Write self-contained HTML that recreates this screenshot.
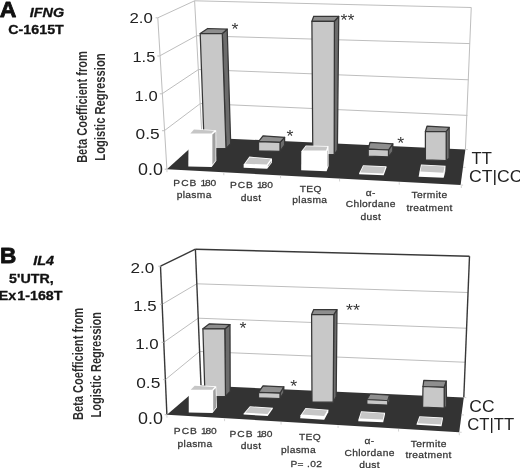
<!DOCTYPE html>
<html><head><meta charset="utf-8"><title>Figure</title>
<style>
html,body{margin:0;padding:0;background:#fff;}
body{width:520px;height:468px;overflow:hidden;}
svg{display:block;font-family:"Liberation Sans",sans-serif;will-change:transform;}
</style></head>
<body>
<svg width="520" height="468" viewBox="0 0 520 468">
<rect width="520" height="468" fill="#fff"/>
<line x1="157.80" y1="17.80" x2="194.60" y2="0.80" stroke="#bebebe" stroke-width="1"/>
<line x1="159.50" y1="56.00" x2="196.50" y2="35.70" stroke="#bebebe" stroke-width="1"/>
<line x1="162.00" y1="93.80" x2="198.50" y2="69.50" stroke="#bebebe" stroke-width="1"/>
<line x1="164.30" y1="130.70" x2="200.40" y2="103.50" stroke="#bebebe" stroke-width="1"/>
<line x1="194.60" y1="0.80" x2="471.25" y2="7.50" stroke="#bebebe" stroke-width="1"/>
<line x1="196.50" y1="35.70" x2="470.00" y2="43.60" stroke="#bebebe" stroke-width="1"/>
<line x1="198.50" y1="69.50" x2="468.70" y2="79.80" stroke="#bebebe" stroke-width="1"/>
<line x1="200.40" y1="103.50" x2="467.40" y2="115.40" stroke="#bebebe" stroke-width="1"/>
<line x1="157.80" y1="17.80" x2="166.90" y2="169.20" stroke="#bebebe" stroke-width="1"/>
<line x1="194.60" y1="0.80" x2="202.00" y2="137.40" stroke="#bebebe" stroke-width="1"/>
<line x1="471.25" y1="7.50" x2="465.40" y2="149.50" stroke="#bebebe" stroke-width="1"/>
<line x1="155.60" y1="17.80" x2="157.80" y2="17.80" stroke="#bebebe" stroke-width="1"/>
<line x1="157.30" y1="56.00" x2="159.50" y2="56.00" stroke="#bebebe" stroke-width="1"/>
<line x1="159.80" y1="93.80" x2="162.00" y2="93.80" stroke="#bebebe" stroke-width="1"/>
<line x1="162.10" y1="130.70" x2="164.30" y2="130.70" stroke="#bebebe" stroke-width="1"/>
<line x1="164.70" y1="169.20" x2="166.90" y2="169.20" stroke="#bebebe" stroke-width="1"/>
<polygon points="166.90,169.20 202.00,137.40 465.40,149.50 460.60,185.00" fill="#333333"/>
<line x1="166.90" y1="169.70" x2="167.00" y2="172.20" stroke="#cfcfcf" stroke-width="0.9"/>
<line x1="223.75" y1="172.76" x2="223.85" y2="175.26" stroke="#cfcfcf" stroke-width="0.9"/>
<line x1="280.50" y1="175.81" x2="280.60" y2="178.31" stroke="#cfcfcf" stroke-width="0.9"/>
<line x1="339.50" y1="178.99" x2="339.60" y2="181.49" stroke="#cfcfcf" stroke-width="0.9"/>
<line x1="399.20" y1="182.20" x2="399.30" y2="184.70" stroke="#cfcfcf" stroke-width="0.9"/>
<line x1="461.25" y1="185.53" x2="461.35" y2="188.03" stroke="#cfcfcf" stroke-width="0.9"/>
<line x1="465.40" y1="149.50" x2="467.90" y2="149.60" stroke="#cfcfcf" stroke-width="0.9"/>
<line x1="463.00" y1="167.25" x2="465.50" y2="167.35" stroke="#cfcfcf" stroke-width="0.9"/>
<line x1="460.60" y1="185.00" x2="463.10" y2="185.10" stroke="#cfcfcf" stroke-width="0.9"/>
<polygon points="222.30,33.50 227.20,29.20 230.70,143.70 226.00,148.70" fill="#6c6c6c" stroke="#363636" stroke-width="1.25" stroke-linejoin="round"/>
<polygon points="200.20,33.50 207.70,28.50 227.20,29.20 222.30,33.50" fill="#8e8e8e" stroke="#363636" stroke-width="1.25" stroke-linejoin="round"/>
<polygon points="200.20,33.50 222.30,33.50 226.00,148.70 204.30,148.70" fill="#c8c8c8" stroke="#363636" stroke-width="1.25" stroke-linejoin="round"/>
<polygon points="280.00,142.30 284.60,137.30 284.60,145.00 280.00,151.40" fill="#6c6c6c" stroke="#363636" stroke-width="1.25" stroke-linejoin="round"/>
<polygon points="258.50,141.70 263.00,135.80 284.60,137.30 280.00,142.30" fill="#8e8e8e" stroke="#363636" stroke-width="1.25" stroke-linejoin="round"/>
<polygon points="258.50,141.70 280.00,142.30 280.00,151.40 258.50,150.80" fill="#c8c8c8" stroke="#363636" stroke-width="1.25" stroke-linejoin="round"/>
<polygon points="334.40,21.25 338.75,16.40 337.40,150.00 334.20,154.60" fill="#6c6c6c" stroke="#363636" stroke-width="1.25" stroke-linejoin="round"/>
<polygon points="311.90,21.25 313.75,16.25 338.75,16.40 334.40,21.25" fill="#8e8e8e" stroke="#363636" stroke-width="1.25" stroke-linejoin="round"/>
<polygon points="311.90,21.25 334.40,21.25 334.20,154.60 312.80,154.60" fill="#c8c8c8" stroke="#363636" stroke-width="1.25" stroke-linejoin="round"/>
<polygon points="388.50,150.00 392.80,143.80 392.80,151.50 388.50,156.90" fill="#6c6c6c" stroke="#363636" stroke-width="1.25" stroke-linejoin="round"/>
<polygon points="368.20,149.20 370.00,142.30 392.80,143.80 388.50,150.00" fill="#8e8e8e" stroke="#363636" stroke-width="1.25" stroke-linejoin="round"/>
<polygon points="368.20,149.20 388.50,150.00 388.50,156.90 368.20,156.20" fill="#c8c8c8" stroke="#363636" stroke-width="1.25" stroke-linejoin="round"/>
<polygon points="446.20,131.50 449.20,127.40 449.20,158.30 446.20,160.50" fill="#6c6c6c" stroke="#363636" stroke-width="1.25" stroke-linejoin="round"/>
<polygon points="425.40,131.50 427.00,126.20 449.20,127.40 446.20,131.50" fill="#8e8e8e" stroke="#363636" stroke-width="1.25" stroke-linejoin="round"/>
<polygon points="425.40,131.50 446.20,131.50 446.20,160.50 425.40,159.90" fill="#c8c8c8" stroke="#363636" stroke-width="1.25" stroke-linejoin="round"/>
<polygon points="188.60,134.30 193.60,128.70 216.20,130.20 216.30,160.70 211.70,166.90 188.30,166.40" fill="#fff"/>
<polygon points="190.39,133.50 193.94,129.52 214.27,130.87 211.39,133.50" fill="#c6c6c6"/>
<polygon points="212.40,134.61 215.51,131.78 215.60,160.47 212.40,164.78" fill="#a0a0a0"/>
<polygon points="243.65,164.60 249.40,156.60 272.00,158.50 272.00,162.60 267.20,168.75 243.65,167.80" fill="#fff"/>
<polygon points="245.18,163.85 249.78,157.44 270.54,159.18 266.79,164.49" fill="#c6c6c6"/>
<polygon points="267.90,165.52 271.30,160.71 271.30,162.36 267.90,166.72" fill="#a0a0a0"/>
<polygon points="301.30,151.30 305.80,145.50 328.50,146.10 328.60,166.00 326.60,171.20 301.20,170.30" fill="#fff"/>
<polygon points="302.93,150.50 306.18,146.31 327.37,146.87 326.04,150.50" fill="#c6c6c6"/>
<polygon points="327.30,151.42 327.82,150.00 327.90,165.87 327.30,167.43" fill="#a0a0a0"/>
<polygon points="359.10,173.30 363.00,165.20 386.50,166.20 386.50,167.50 383.70,175.30 359.10,174.30" fill="#fff"/>
<polygon points="360.35,172.55 363.49,166.02 385.39,166.95 383.14,173.48" fill="#c6c6c6"/>
<polygon points="419.40,172.30 421.00,164.40 445.60,165.80 445.20,172.00 443.65,177.70 418.65,176.75" fill="#fff"/>
<polygon points="420.37,171.55 421.65,165.24 444.63,166.55 443.35,172.76" fill="#c6c6c6"/>
<polygon points="444.69,173.70 444.25,175.87 444.51,171.88 445.01,170.05" fill="#a0a0a0"/>
<text transform="translate(-0.30,17.40) scale(1.02,1)" stroke="#111" stroke-width="0.8" stroke-linejoin="round" font-size="22.6" font-weight="bold" font-style="normal" fill="#111" text-anchor="start" letter-spacing="0">A</text>
<text transform="translate(29.80,17.20) scale(1.18,1)" stroke="#111" stroke-width="0.3" stroke-linejoin="round" font-size="12.2" font-weight="bold" font-style="italic" fill="#111" text-anchor="start" letter-spacing="0">IFNG</text>
<text transform="translate(8.30,34.20) scale(1.17,1)" stroke="#111" stroke-width="0.3" stroke-linejoin="round" font-size="12.2" font-weight="bold" font-style="normal" fill="#111" text-anchor="start" letter-spacing="0">C-1615T</text>
<text transform="translate(129.40,23.30) scale(1.12,1)" font-size="15" font-weight="normal" font-style="normal" fill="#222" text-anchor="start" letter-spacing="0">2.0</text>
<text transform="translate(132.50,62.40) scale(1.08,1)" font-size="15.2" font-weight="normal" font-style="normal" fill="#222" text-anchor="start" letter-spacing="0">1.5</text>
<text transform="translate(134.60,100.60) scale(1.08,1)" font-size="15.4" font-weight="normal" font-style="normal" fill="#222" text-anchor="start" letter-spacing="0">1.0</text>
<text transform="translate(135.60,138.90) scale(1.12,1)" font-size="15.5" font-weight="normal" font-style="normal" fill="#222" text-anchor="start" letter-spacing="0">0.5</text>
<text transform="translate(138.00,175.10) scale(1.12,1)" font-size="16" font-weight="normal" font-style="normal" fill="#222" text-anchor="start" letter-spacing="0">0.0</text>
<text transform="translate(86.80,107.00) rotate(-90) scale(1,1.28)" font-size="11.05" font-weight="bold" fill="#2c2c2c" text-anchor="middle">Beta Coefficient from</text>
<text transform="translate(104.90,107.00) rotate(-90) scale(1,1.28)" font-size="11.25" font-weight="bold" fill="#2c2c2c" text-anchor="middle">Logistic Regression</text>
<text transform="translate(471.60,163.80) scale(1.06,1)" font-size="15.7" font-weight="normal" font-style="normal" fill="#222" text-anchor="start" letter-spacing="0">TT</text>
<text transform="translate(469.00,182.10) scale(1.1,1)" font-size="16" font-weight="normal" font-style="normal" fill="#222" text-anchor="start" letter-spacing="0">CT|CC</text>
<text transform="translate(235.00,35.30) scale(1.05,1)" font-size="17" font-weight="normal" font-style="normal" fill="#383838" text-anchor="middle" letter-spacing="0">*</text>
<text transform="translate(290.00,142.00) scale(1.05,1)" font-size="17" font-weight="normal" font-style="normal" fill="#383838" text-anchor="middle" letter-spacing="0">*</text>
<text transform="translate(347.50,25.50) scale(1.05,1)" font-size="17" font-weight="normal" font-style="normal" fill="#383838" text-anchor="middle" letter-spacing="0">**</text>
<text transform="translate(400.80,149.00) scale(1.05,1)" font-size="17" font-weight="normal" font-style="normal" fill="#383838" text-anchor="middle" letter-spacing="0">*</text>
<text transform="translate(194.80,185.50) scale(1.09,1)" stroke="#363636" stroke-width="0.25" stroke-linejoin="round" font-size="9.4" font-weight="normal" font-style="normal" fill="#363636" text-anchor="middle" letter-spacing="0.3"><tspan letter-spacing="0.9">PCB</tspan> 1<tspan dx="-1.5" letter-spacing="0">80</tspan></text>
<text transform="translate(194.20,197.90) scale(1.09,1)" stroke="#363636" stroke-width="0.25" stroke-linejoin="round" font-size="9.4" font-weight="normal" font-style="normal" fill="#363636" text-anchor="middle" letter-spacing="0.3">plasma</text>
<text transform="translate(251.40,188.30) scale(1.09,1)" stroke="#363636" stroke-width="0.25" stroke-linejoin="round" font-size="9.4" font-weight="normal" font-style="normal" fill="#363636" text-anchor="middle" letter-spacing="0.3"><tspan letter-spacing="0.9">PCB</tspan> 1<tspan dx="-1.5" letter-spacing="0">80</tspan></text>
<text transform="translate(251.00,200.50) scale(1.09,1)" stroke="#363636" stroke-width="0.25" stroke-linejoin="round" font-size="9.4" font-weight="normal" font-style="normal" fill="#363636" text-anchor="middle" letter-spacing="0.3">dust</text>
<text transform="translate(310.80,191.60) scale(1.09,1)" stroke="#363636" stroke-width="0.25" stroke-linejoin="round" font-size="9.4" font-weight="normal" font-style="normal" fill="#363636" text-anchor="middle" letter-spacing="0.3">TEQ</text>
<text transform="translate(309.80,203.00) scale(1.09,1)" stroke="#363636" stroke-width="0.25" stroke-linejoin="round" font-size="9.4" font-weight="normal" font-style="normal" fill="#363636" text-anchor="middle" letter-spacing="0.3">plasma</text>
<text transform="translate(370.80,195.80) scale(1.09,1)" stroke="#363636" stroke-width="0.25" stroke-linejoin="round" font-size="9.4" font-weight="normal" font-style="normal" fill="#363636" text-anchor="middle" letter-spacing="0.3">α-</text>
<text transform="translate(370.80,207.00) scale(1.09,1)" stroke="#363636" stroke-width="0.25" stroke-linejoin="round" font-size="9.4" font-weight="normal" font-style="normal" fill="#363636" text-anchor="middle" letter-spacing="0.3">Chlordane</text>
<text transform="translate(370.80,219.50) scale(1.09,1)" stroke="#363636" stroke-width="0.25" stroke-linejoin="round" font-size="9.4" font-weight="normal" font-style="normal" fill="#363636" text-anchor="middle" letter-spacing="0.3">dust</text>
<text transform="translate(429.50,198.20) scale(1.09,1)" stroke="#363636" stroke-width="0.25" stroke-linejoin="round" font-size="9.4" font-weight="normal" font-style="normal" fill="#363636" text-anchor="middle" letter-spacing="0.3">Termite</text>
<text transform="translate(429.50,210.50) scale(1.09,1)" stroke="#363636" stroke-width="0.25" stroke-linejoin="round" font-size="9.4" font-weight="normal" font-style="normal" fill="#363636" text-anchor="middle" letter-spacing="0.3">treatment</text>
<line x1="160.50" y1="266.20" x2="195.40" y2="249.20" stroke="#383838" stroke-width="1.4"/>
<line x1="162.10" y1="304.30" x2="196.80" y2="283.80" stroke="#bebebe" stroke-width="1"/>
<line x1="163.80" y1="342.30" x2="198.20" y2="318.20" stroke="#bebebe" stroke-width="1"/>
<line x1="165.40" y1="379.60" x2="199.60" y2="351.50" stroke="#bebebe" stroke-width="1"/>
<line x1="195.40" y1="249.20" x2="469.50" y2="256.25" stroke="#383838" stroke-width="1.4"/>
<line x1="196.80" y1="283.80" x2="468.20" y2="292.50" stroke="#bebebe" stroke-width="1"/>
<line x1="198.20" y1="318.20" x2="466.80" y2="328.25" stroke="#bebebe" stroke-width="1"/>
<line x1="199.60" y1="351.50" x2="465.40" y2="362.25" stroke="#bebebe" stroke-width="1"/>
<line x1="160.50" y1="266.20" x2="166.90" y2="414.70" stroke="#383838" stroke-width="1.4"/>
<line x1="195.40" y1="249.20" x2="201.00" y2="385.50" stroke="#383838" stroke-width="1.4"/>
<line x1="469.50" y1="256.25" x2="463.80" y2="397.50" stroke="#383838" stroke-width="1.4"/>
<line x1="158.30" y1="266.20" x2="160.50" y2="266.20" stroke="#bebebe" stroke-width="1"/>
<line x1="159.90" y1="304.30" x2="162.10" y2="304.30" stroke="#bebebe" stroke-width="1"/>
<line x1="161.60" y1="342.30" x2="163.80" y2="342.30" stroke="#bebebe" stroke-width="1"/>
<line x1="163.20" y1="379.60" x2="165.40" y2="379.60" stroke="#bebebe" stroke-width="1"/>
<line x1="164.70" y1="414.70" x2="166.90" y2="414.70" stroke="#bebebe" stroke-width="1"/>
<polygon points="166.90,414.70 201.00,385.50 463.80,397.50 459.20,432.20" fill="#333333"/>
<line x1="166.90" y1="415.20" x2="167.00" y2="417.70" stroke="#cfcfcf" stroke-width="0.9"/>
<line x1="224.50" y1="418.65" x2="224.60" y2="421.15" stroke="#cfcfcf" stroke-width="0.9"/>
<line x1="281.00" y1="422.03" x2="281.10" y2="424.53" stroke="#cfcfcf" stroke-width="0.9"/>
<line x1="338.00" y1="425.44" x2="338.10" y2="427.94" stroke="#cfcfcf" stroke-width="0.9"/>
<line x1="398.50" y1="429.07" x2="398.60" y2="431.57" stroke="#cfcfcf" stroke-width="0.9"/>
<line x1="459.20" y1="432.70" x2="459.30" y2="435.20" stroke="#cfcfcf" stroke-width="0.9"/>
<line x1="463.80" y1="397.50" x2="466.30" y2="397.60" stroke="#cfcfcf" stroke-width="0.9"/>
<line x1="461.50" y1="414.85" x2="464.00" y2="414.95" stroke="#cfcfcf" stroke-width="0.9"/>
<line x1="459.20" y1="432.20" x2="461.70" y2="432.30" stroke="#cfcfcf" stroke-width="0.9"/>
<polygon points="224.80,328.90 230.00,324.60 230.20,391.50 225.50,396.50" fill="#6c6c6c" stroke="#363636" stroke-width="1.25" stroke-linejoin="round"/>
<polygon points="202.90,328.80 209.40,323.80 230.00,324.60 224.80,328.90" fill="#8e8e8e" stroke="#363636" stroke-width="1.25" stroke-linejoin="round"/>
<polygon points="202.90,328.80 224.80,328.90 225.50,396.50 205.00,396.50" fill="#c8c8c8" stroke="#363636" stroke-width="1.25" stroke-linejoin="round"/>
<polygon points="280.00,393.20 283.80,386.80 283.80,392.70 280.00,398.50" fill="#6c6c6c" stroke="#363636" stroke-width="1.25" stroke-linejoin="round"/>
<polygon points="258.50,392.40 263.00,385.80 283.80,386.80 280.00,393.20" fill="#8e8e8e" stroke="#363636" stroke-width="1.25" stroke-linejoin="round"/>
<polygon points="258.50,392.40 280.00,393.20 280.00,398.50 258.50,397.80" fill="#c8c8c8" stroke="#363636" stroke-width="1.25" stroke-linejoin="round"/>
<polygon points="333.80,314.50 337.00,309.70 336.20,396.50 333.20,402.20" fill="#6c6c6c" stroke="#363636" stroke-width="1.25" stroke-linejoin="round"/>
<polygon points="311.60,314.50 313.75,309.50 337.00,309.70 333.80,314.50" fill="#8e8e8e" stroke="#363636" stroke-width="1.25" stroke-linejoin="round"/>
<polygon points="311.60,314.50 333.80,314.50 333.20,402.20 312.00,402.00" fill="#c8c8c8" stroke="#363636" stroke-width="1.25" stroke-linejoin="round"/>
<polygon points="387.60,400.60 389.30,395.20 389.30,400.80 387.60,405.00" fill="#6c6c6c" stroke="#363636" stroke-width="0.9" stroke-linejoin="round"/>
<polygon points="367.00,399.70 370.30,394.00 389.30,395.20 387.60,400.60" fill="#8e8e8e" stroke="#363636" stroke-width="0.9" stroke-linejoin="round"/>
<polygon points="367.00,399.70 387.60,400.60 387.60,405.00 367.00,404.10" fill="#c8c8c8" stroke="#363636" stroke-width="0.9" stroke-linejoin="round"/>
<polygon points="444.20,387.30 446.20,381.20 446.60,406.50 444.20,408.10" fill="#6c6c6c" stroke="#363636" stroke-width="1.25" stroke-linejoin="round"/>
<polygon points="423.00,386.50 423.80,380.40 446.20,381.20 444.20,387.30" fill="#8e8e8e" stroke="#363636" stroke-width="1.25" stroke-linejoin="round"/>
<polygon points="423.00,386.50 444.20,387.30 444.20,408.10 422.60,407.00" fill="#c8c8c8" stroke="#363636" stroke-width="1.25" stroke-linejoin="round"/>
<polygon points="188.75,390.60 194.40,385.00 216.25,386.25 216.90,407.50 212.50,413.10 188.75,412.50" fill="#fff"/>
<polygon points="190.69,389.80 194.71,385.82 214.59,386.96 212.13,389.80" fill="#c6c6c6"/>
<polygon points="213.20,390.86 215.61,388.07 216.19,407.27 213.20,411.08" fill="#a0a0a0"/>
<polygon points="243.70,413.40 249.90,406.25 273.00,407.70 272.60,409.00 267.70,416.00 243.50,414.60" fill="#fff"/>
<polygon points="245.37,412.70 250.25,407.07 271.51,408.41 267.51,413.98" fill="#c6c6c6"/>
<polygon points="300.50,415.30 305.50,408.00 328.50,409.70 328.20,412.30 324.20,419.80 300.20,418.30" fill="#fff"/>
<polygon points="301.96,414.59 305.90,408.83 327.20,410.41 324.14,415.97" fill="#c6c6c6"/>
<polygon points="358.50,419.20 361.05,411.25 385.10,412.70 385.00,414.50 383.20,422.30 358.20,421.35" fill="#fff"/>
<polygon points="359.58,418.45 361.62,412.09 384.13,413.44 382.86,419.57" fill="#c6c6c6"/>
<polygon points="416.60,424.00 419.40,416.20 443.00,417.60 442.90,419.00 441.50,426.30 416.50,424.80" fill="#fff"/>
<polygon points="417.72,423.26 419.95,417.03 442.05,418.35 440.94,424.56" fill="#c6c6c6"/>
<text transform="translate(-0.10,263.40) scale(1.0,1)" stroke="#111" stroke-width="0.8" stroke-linejoin="round" font-size="22.6" font-weight="bold" font-style="normal" fill="#111" text-anchor="start" letter-spacing="0">B</text>
<text transform="translate(33.30,264.80) scale(1.18,1)" stroke="#111" stroke-width="0.3" stroke-linejoin="round" font-size="12.2" font-weight="bold" font-style="italic" fill="#111" text-anchor="start" letter-spacing="0">IL4</text>
<text transform="translate(9.10,283.20) scale(1.17,1)" stroke="#111" stroke-width="0.3" stroke-linejoin="round" font-size="12.2" font-weight="bold" font-style="normal" fill="#111" text-anchor="start" letter-spacing="0">5'UTR,</text>
<text transform="translate(-1.20,300.10) scale(1.17,1)" stroke="#111" stroke-width="0.3" stroke-linejoin="round" font-size="12.2" font-weight="bold" font-style="normal" fill="#111" text-anchor="start" letter-spacing="0">Ex<tspan dx="0.9">1-168T</tspan></text>
<text transform="translate(130.40,273.40) scale(1.12,1)" font-size="15.3" font-weight="normal" font-style="normal" fill="#222" text-anchor="start" letter-spacing="0">2.0</text>
<text transform="translate(133.20,311.20) scale(1.1,1)" font-size="15.3" font-weight="normal" font-style="normal" fill="#222" text-anchor="start" letter-spacing="0">1.5</text>
<text transform="translate(135.20,349.30) scale(1.09,1)" font-size="15.5" font-weight="normal" font-style="normal" fill="#222" text-anchor="start" letter-spacing="0">1.0</text>
<text transform="translate(136.20,387.70) scale(1.12,1)" font-size="15.5" font-weight="normal" font-style="normal" fill="#222" text-anchor="start" letter-spacing="0">0.5</text>
<text transform="translate(138.00,423.60) scale(1.12,1)" font-size="16" font-weight="normal" font-style="normal" fill="#222" text-anchor="start" letter-spacing="0">0.0</text>
<text transform="translate(83.00,364.00) rotate(-90) scale(1,1.28)" font-size="11.1" font-weight="bold" fill="#2c2c2c" text-anchor="middle">Beta Coefficient from</text>
<text transform="translate(101.10,364.70) rotate(-90) scale(1,1.28)" font-size="11.05" font-weight="bold" fill="#2c2c2c" text-anchor="middle">Logistic Regression</text>
<text transform="translate(469.30,412.20) scale(1.09,1)" font-size="16" font-weight="normal" font-style="normal" fill="#222" text-anchor="start" letter-spacing="0">CC</text>
<text transform="translate(467.20,429.60) scale(1.045,1)" font-size="16" font-weight="normal" font-style="normal" fill="#222" text-anchor="start" letter-spacing="0">CT|TT</text>
<text transform="translate(243.00,333.50) scale(1.05,1)" font-size="17" font-weight="normal" font-style="normal" fill="#383838" text-anchor="middle" letter-spacing="0">*</text>
<text transform="translate(293.80,392.10) scale(1.05,1)" font-size="17" font-weight="normal" font-style="normal" fill="#383838" text-anchor="middle" letter-spacing="0">*</text>
<text transform="translate(353.00,316.30) scale(1.05,1)" font-size="17" font-weight="normal" font-style="normal" fill="#383838" text-anchor="middle" letter-spacing="0">**</text>
<text transform="translate(195.30,433.80) scale(1.09,1)" stroke="#363636" stroke-width="0.25" stroke-linejoin="round" font-size="9.4" font-weight="normal" font-style="normal" fill="#363636" text-anchor="middle" letter-spacing="0.3"><tspan letter-spacing="0.9">PCB</tspan> 1<tspan dx="-1.5" letter-spacing="0">80</tspan></text>
<text transform="translate(195.00,446.60) scale(1.09,1)" stroke="#363636" stroke-width="0.25" stroke-linejoin="round" font-size="9.4" font-weight="normal" font-style="normal" fill="#363636" text-anchor="middle" letter-spacing="0.3">plasma</text>
<text transform="translate(251.00,437.00) scale(1.09,1)" stroke="#363636" stroke-width="0.25" stroke-linejoin="round" font-size="9.4" font-weight="normal" font-style="normal" fill="#363636" text-anchor="middle" letter-spacing="0.3"><tspan letter-spacing="0.9">PCB</tspan> 1<tspan dx="-1.5" letter-spacing="0">80</tspan></text>
<text transform="translate(251.00,449.30) scale(1.09,1)" stroke="#363636" stroke-width="0.25" stroke-linejoin="round" font-size="9.4" font-weight="normal" font-style="normal" fill="#363636" text-anchor="middle" letter-spacing="0.3">dust</text>
<text transform="translate(310.00,439.60) scale(1.09,1)" stroke="#363636" stroke-width="0.25" stroke-linejoin="round" font-size="9.4" font-weight="normal" font-style="normal" fill="#363636" text-anchor="middle" letter-spacing="0.3">TEQ</text>
<text transform="translate(298.50,452.80) scale(1.09,1)" stroke="#363636" stroke-width="0.25" stroke-linejoin="round" font-size="9.4" font-weight="normal" font-style="normal" fill="#363636" text-anchor="middle" letter-spacing="0.3">plasma</text>
<text transform="translate(306.30,466.60) scale(1.09,1)" stroke="#363636" stroke-width="0.25" stroke-linejoin="round" font-size="9.4" font-weight="normal" font-style="normal" fill="#363636" text-anchor="middle" letter-spacing="0.3">P= .02</text>
<text transform="translate(369.60,443.80) scale(1.09,1)" stroke="#363636" stroke-width="0.25" stroke-linejoin="round" font-size="9.4" font-weight="normal" font-style="normal" fill="#363636" text-anchor="middle" letter-spacing="0.3">α-</text>
<text transform="translate(369.60,455.80) scale(1.09,1)" stroke="#363636" stroke-width="0.25" stroke-linejoin="round" font-size="9.4" font-weight="normal" font-style="normal" fill="#363636" text-anchor="middle" letter-spacing="0.3">Chlordane</text>
<text transform="translate(369.60,467.90) scale(1.09,1)" stroke="#363636" stroke-width="0.25" stroke-linejoin="round" font-size="9.4" font-weight="normal" font-style="normal" fill="#363636" text-anchor="middle" letter-spacing="0.3">dust</text>
<text transform="translate(428.80,446.60) scale(1.09,1)" stroke="#363636" stroke-width="0.25" stroke-linejoin="round" font-size="9.4" font-weight="normal" font-style="normal" fill="#363636" text-anchor="middle" letter-spacing="0.3">Termite</text>
<text transform="translate(428.50,458.00) scale(1.09,1)" stroke="#363636" stroke-width="0.25" stroke-linejoin="round" font-size="9.4" font-weight="normal" font-style="normal" fill="#363636" text-anchor="middle" letter-spacing="0.3">treatment</text>
</svg>
</body></html>
